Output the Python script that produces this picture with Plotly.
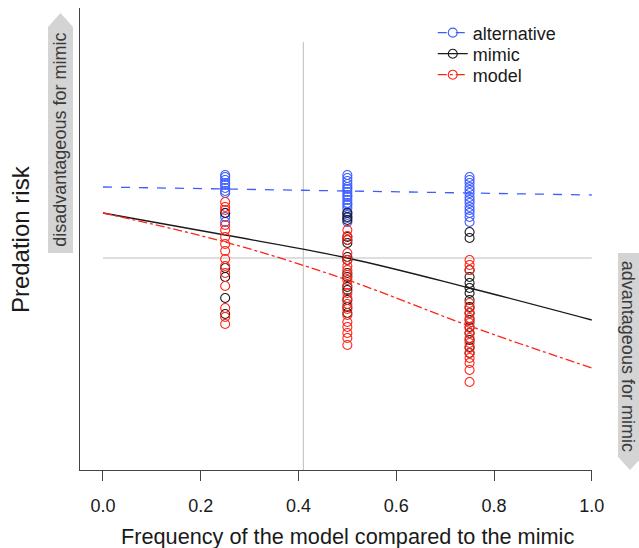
import plotly.graph_objects as go

# ---- data (predation risk in arbitrary units) ----
groups_x = [0.25, 0.5, 0.75]

alt_pts = {
    0.25: [295, 293, 290, 287, 285, 282, 279, 277, 257, 253, 248],
    0.5: [295, 292, 289, 286, 283, 281, 278, 275, 273, 270, 267, 265, 262, 258, 255, 252, 248],
    0.75: [293, 290, 287, 283, 280, 277, 273, 270, 267, 263, 260, 257, 253, 248],
}
mim_pts = {
    0.25: [257, 202, 193, 172, 156],
    0.5: [257, 253, 250, 233, 230, 227, 213, 210, 197, 193, 183, 180, 170, 163, 157],
    0.75: [238, 232, 200, 193, 187, 182, 177, 170, 163, 157, 150, 143, 137, 130, 123, 117],
}
mod_pts = {
    0.25: [268, 263, 260, 245, 240, 233, 226, 219, 211, 204, 197, 184, 162, 153, 146],
    0.5: [240, 234, 230, 217, 210, 204, 200, 195, 190, 185, 177, 172, 166, 161, 155, 148, 143, 137, 132, 125],
    0.75: [210, 205, 200, 167, 162, 157, 152, 147, 142, 137, 132, 127, 122, 117, 112, 107, 100, 88],
}

fit_x = [0, 0.25, 0.5, 0.75, 1.0]
alt_fit = [283, 281, 279, 277, 275]
mim_fit = [257, 235, 212, 182, 150]
mod_fit = [257, 228, 190, 144, 102]

ref_x = 0.41
ref_y = 212
vline_top = 428
y_max = 462

tick_vals = [0, 0.2, 0.4, 0.6, 0.8, 1.0]
tick_text = ["0.0", "0.2", "0.4", "0.6", "0.8", "1.0"]

series = ["alternative", "mimic", "model"]
colors = {"alternative": "#3d5cff", "mimic": "#1a1a1a", "model": "#ff2418"}
dashes = {"alternative": "dash", "mimic": "solid", "model": "dashdot"}
pts = {"alternative": alt_pts, "mimic": mim_pts, "model": mod_pts}
fits = {"alternative": alt_fit, "mimic": mim_fit, "model": mod_fit}
legend_ids = {"alternative": "legend", "mimic": "legend2", "model": "legend3"}
legend_rows_y = {"legend": 0.946, "legend2": 0.9004, "legend3": 0.855}

FONT = "Liberation Sans, Arial, sans-serif"

fig = go.Figure()

# reference lines
fig.add_shape(type="line", xref="x", yref="y", x0=0, x1=1, y0=ref_y, y1=ref_y,
              line=dict(color="#bdbdbd", width=1.2), layer="below")
fig.add_shape(type="line", xref="x", yref="y", x0=ref_x, x1=ref_x, y0=0, y1=vline_top,
              line=dict(color="#c8c8c8", width=1.2), layer="below")

# fitted curves
for s in series:
    fig.add_trace(go.Scatter(
        x=fit_x, y=fits[s], mode="lines", showlegend=False, hoverinfo="skip",
        line=dict(color=colors[s], width=1.3, dash=dashes[s],
                  shape="linear" if s == "alternative" else "spline")))

# points
for s in series:
    xs, ys = [], []
    for gx in groups_x:
        xs += [gx] * len(pts[s][gx])
        ys += pts[s][gx]
    fig.add_trace(go.Scatter(
        x=xs, y=ys, mode="markers", showlegend=False,
        marker=dict(symbol="circle-open", size=9, color=colors[s],
                    line=dict(width=1.1, color=colors[s]))))

# legend entries (one legend per row for exact spacing)
for s in series:
    fig.add_trace(go.Scatter(
        x=[None], y=[None], mode="lines+markers", name=s, legend=legend_ids[s],
        line=dict(color=colors[s], width=1.3, dash=dashes[s]),
        marker=dict(symbol="circle-open", size=9, color=colors[s],
                    line=dict(width=1.1, color=colors[s]))))

# gray arrow labels (paper coords)
left_arrow = "M -0.0625,0.4697 L -0.0625,0.959 L -0.0381,0.989 L -0.0137,0.959 L -0.0137,0.4697 Z"
right_arrow = "M 1.0508,0.4697 L 1.0508,0.0281 L 1.0742,0.0 L 1.0977,0.0281 L 1.0977,0.4697 Z"
for p in [left_arrow, right_arrow]:
    fig.add_shape(type="path", xref="paper", yref="paper", path=p,
                  fillcolor="#d4d4d4", line=dict(width=0), layer="below")

fig.add_annotation(xref="paper", yref="paper", x=-0.0381, y=0.716,
                   xanchor="center", yanchor="middle",
                   text="disadvantageous for mimic", textangle=-90, showarrow=False,
                   font=dict(family=FONT, size=18, color="#3a3a3a"))
fig.add_annotation(xref="paper", yref="paper", x=1.0705, y=0.247,
                   xanchor="center", yanchor="middle",
                   text="advantageous for mimic", textangle=90, showarrow=False,
                   font=dict(family=FONT, size=18, color="#3a3a3a"))

# axis titles
fig.add_annotation(xref="paper", yref="paper", x=0.523, y=-0.145,
                   xanchor="center", yanchor="middle",
                   text="Frequency of the model compared to the mimic", showarrow=False,
                   font=dict(family=FONT, size=21.7, color="#1a1a1a"))
fig.add_annotation(xref="paper", yref="paper", x=-0.117, y=0.5,
                   xanchor="center", yanchor="middle",
                   text="Predation risk", textangle=-90, showarrow=False,
                   font=dict(family=FONT, size=24, color="#1a1a1a"))

legend_common = dict(x=0.689, xanchor="left", yanchor="middle",
                     bgcolor="rgba(0,0,0,0)", font=dict(size=18))

fig.update_layout(
    width=639, height=548,
    margin=dict(l=80, r=47, t=8, b=78),
    paper_bgcolor="white", plot_bgcolor="white",
    font=dict(family=FONT, size=18, color="#1a1a1a"),
    showlegend=True,
    legend=dict(y=legend_rows_y["legend"], **legend_common),
    legend2=dict(y=legend_rows_y["legend2"], **legend_common),
    legend3=dict(y=legend_rows_y["legend3"], **legend_common),
    xaxis=dict(range=[-0.047, 1.0005], tickvals=tick_vals, ticktext=tick_text,
               showgrid=False, zeroline=False, showline=True, linecolor="#444",
               linewidth=1.3, ticks="outside", ticklen=10, tickwidth=1.3,
               tickcolor="#444", tickfont=dict(size=18, color="#1a1a1a"),
               ticklabelstandoff=9),
    yaxis=dict(range=[0, y_max], showticklabels=False, showgrid=False, zeroline=False,
               showline=True, linecolor="#444", linewidth=1.3, ticks=""),
)

fig.write_html("out.html", config={"displayModeBar": False},
               post_script="document.body.style.margin='0';document.body.style.overflow='hidden';")
